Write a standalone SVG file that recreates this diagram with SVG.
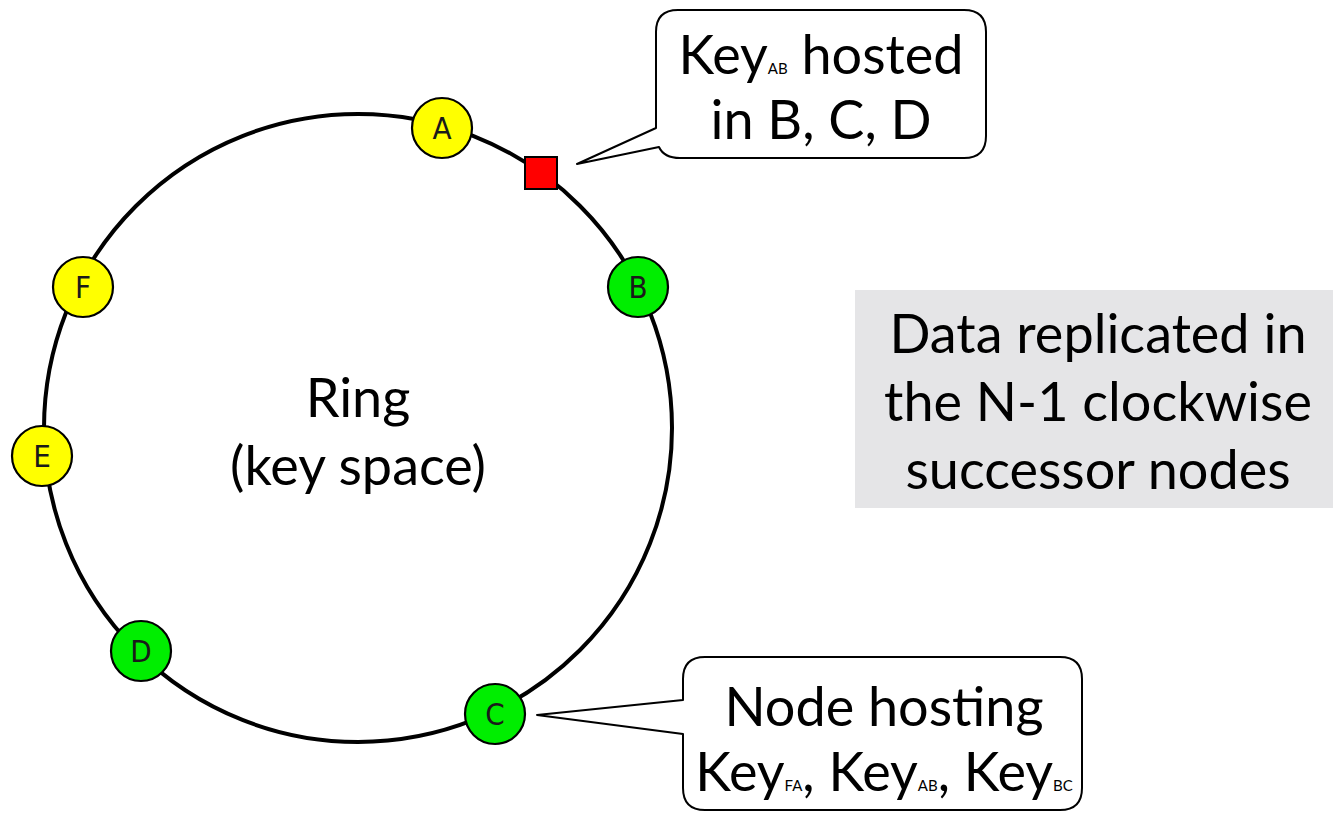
<svg xmlns="http://www.w3.org/2000/svg" width="1333" height="813" viewBox="0 0 1333 813">
  <style>
    .ring { fill: none; stroke: #000; stroke-width: 4; }
    .node circle { stroke: #000; stroke-width: 2.2; }
    .yellow { fill: #ffff00; }
    .green { fill: #00ee00; }
    .node text { font-family: "DejaVu Sans Condensed", "DejaVu Sans", sans-serif; font-stretch: condensed; font-size: 31px; fill: #1a1a1a; text-anchor: middle; }
    .callout { fill: #fff; stroke: #000; stroke-width: 2; stroke-linejoin: round; }
    .big { font-family: Lato, "Open Sans", sans-serif; font-size: 54px; fill: #000; text-anchor: middle; }
    .sub { font-size: 15px; }
  </style>

  <rect width="1333" height="813" fill="#fff"/>

  <!-- key-space ring -->
  <g id="ring">
    <circle class="ring" cx="358" cy="428" r="314"/>
    <text class="big" x="358" y="417">Ring</text>
    <text class="big" x="358" y="485">(key space)</text>
  </g>

  <!-- callout leaders and key marker -->
  <g id="connectors">
    <path class="callout" d="M 678 10 H 964 Q 986 10 986 32 V 136 Q 986 158 964 158 H 680 Q 664 158 659 147 L 577 164 L 656 128 V 32 Q 656 10 678 10 Z"/>
    <path class="callout" d="M 705 657 H 1060 Q 1082 657 1082 679 V 788 Q 1082 810 1060 810 H 705 Q 683 810 683 788 V 734 L 537 715 L 683 700 V 679 Q 683 657 705 657 Z"/>
  </g>

  <g id="key-ab">
    <rect x="525" y="157" width="32" height="32" fill="#ff0000" stroke="#000" stroke-width="2"/>
  </g>

  <g id="node-a" class="node"><circle class="yellow" cx="442" cy="128" r="30"/><text x="442" y="139">A</text></g>
  <g id="node-b" class="node"><circle class="green" cx="638" cy="287" r="30"/><text x="638" y="298">B</text></g>
  <g id="node-c" class="node"><circle class="green" cx="495" cy="714" r="30"/><text x="495" y="725">C</text></g>
  <g id="node-d" class="node"><circle class="green" cx="141" cy="651" r="30"/><text x="141" y="662">D</text></g>
  <g id="node-e" class="node"><circle class="yellow" cx="42" cy="456" r="30"/><text x="42" y="467">E</text></g>
  <g id="node-f" class="node"><circle class="yellow" cx="83" cy="287" r="30"/><text x="83" y="298">F</text></g>

  <g id="callout-key-ab">
    <text class="big" x="821" y="74">Key<tspan class="sub">AB</tspan> hosted</text>
    <text class="big" x="821" y="139">in B, C, D</text>
  </g>

  <g id="callout-node-c">
    <text class="big" x="884" y="726">Node hosting</text>
    <text class="big" x="884" y="791">Key<tspan class="sub">FA</tspan>, Key<tspan class="sub">AB</tspan>, Key<tspan class="sub">BC</tspan></text>
  </g>

  <g id="note">
    <rect x="855" y="290" width="478" height="218" fill="#e5e5e7"/>
    <text class="big" x="1098" y="353">Data replicated in</text>
    <text class="big" x="1098" y="421">the N-1 clockwise</text>
    <text class="big" x="1098" y="489">successor nodes</text>
  </g>
</svg>
